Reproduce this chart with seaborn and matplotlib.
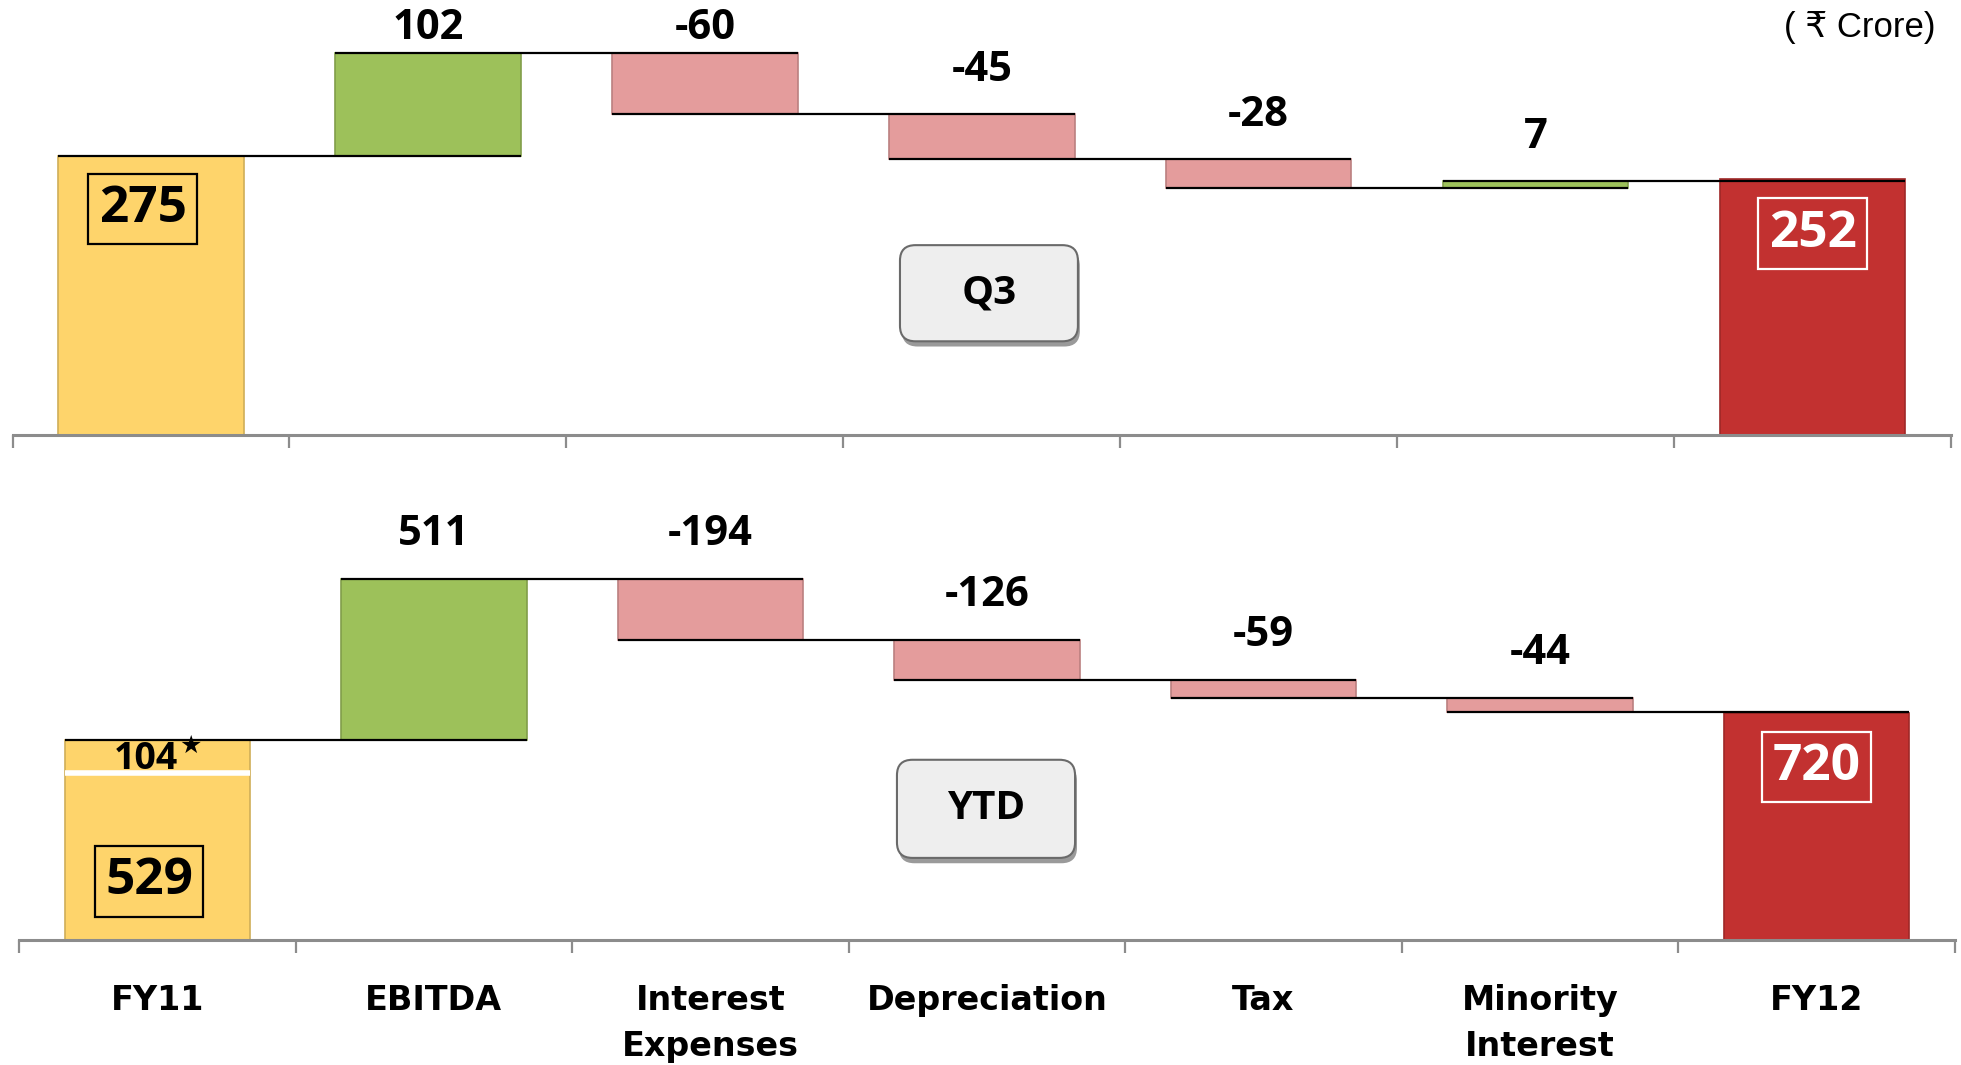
import numpy as np
import pandas as pd
import matplotlib
matplotlib.use('Agg')
import matplotlib.pyplot as plt
import matplotlib.colors as mcolors
from matplotlib.patches import FancyBboxPatch
import seaborn as sns

# ---- data (Rs Crore) ----
categories = ['FY11', 'EBITDA', 'Interest\nExpenses', 'Depreciation', 'Tax', 'Minority\nInterest', 'FY12']

q3_open = 275
q3_changes = [102, -60, -45, -28, 7]
q3_close = 252

ytd_open = 529
ytd_open_adj = 104      # starred amount stacked on FY11
ytd_changes = [511, -194, -126, -59, -44]
ytd_close = 720

# ---- styling ----
YELLOW = '#FED46B'
GREEN = '#9DC15A'
PINK = '#E49C9C'
RED = '#C23130'
AXIS_GREY = '#8C8C8C'
BAR_W = 0.67
VALUE_FONT = ['Open Sans', 'DejaVu Sans']

sns.set_style('white')
plt.rcParams['font.family'] = ['DejaVu Sans']
plt.rcParams['text.color'] = 'black'
plt.rcParams['xtick.labelcolor'] = 'black'

fig = plt.figure(figsize=(19.61, 10.65), dpi=100)
ax_top = fig.add_axes([0.0064, 0.5915, 0.9885, 0.4085])
ax_bot = fig.add_axes([0.0097, 0.1174, 0.9872, 0.4188])


def darker(c, f=0.82):
    r, g, b = mcolors.to_rgb(c)
    return (r * f, g * f, b * f)


def tag_box(ax, text, cx, cy, w, h):
    pos = ax.get_position()
    fw, fh = fig.get_size_inches() * fig.dpi
    aspect = (pos.width * fw) / (pos.height * fh)
    style = 'round,pad=0,rounding_size=0.008'
    shadow = FancyBboxPatch((cx - w / 2 + 0.001, cy - h / 2 - 0.012), w, h, boxstyle=style,
                            mutation_aspect=aspect, transform=ax.transAxes,
                            fc='#9A9A9A', ec='none', zorder=4, clip_on=False)
    box = FancyBboxPatch((cx - w / 2, cy - h / 2), w, h, boxstyle=style,
                         mutation_aspect=aspect, transform=ax.transAxes,
                         fc='#EEEEEE', ec='#6A6A6A', lw=1.5, zorder=5, clip_on=False)
    ax.add_patch(shadow)
    ax.add_patch(box)
    ax.text(cx, cy, text, transform=ax.transAxes, ha='center', va='center',
            fontsize=29, fontweight='bold', family=VALUE_FONT, zorder=6)


def boxed_label(ax, text, x, y, drop, color):
    ax.annotate(text, xy=(x, y), xytext=(0, -drop), textcoords='offset points',
                ha='center', va='center', fontsize=37, fontweight='bold', family=VALUE_FONT,
                color=color, zorder=6,
                bbox=dict(boxstyle='square,pad=0.2', fc='none', ec=color, lw=1.6))


def draw_panel(ax, open_val, changes, close_val, ymax, open_adj=0, show_labels=False,
               inner_drop=38):
    total_open = open_val + open_adj
    levels = np.cumsum([total_open] + changes)
    bottoms = [0] + [min(levels[i], levels[i + 1]) for i in range(len(changes))] + [0]
    heights = [total_open] + [abs(c) for c in changes] + [close_val]
    colors = [YELLOW] + [GREEN if c > 0 else PINK for c in changes] + [RED]

    df = pd.DataFrame({'category': categories, 'height': heights})
    sns.barplot(data=df, x='category', y='height', hue='category', palette=colors,
                saturation=1, width=BAR_W, legend=False, ax=ax)
    for p in ax.patches:
        i = int(round(p.get_x() + p.get_width() / 2))
        p.set_y(bottoms[i])
        p.set_edgecolor(darker(colors[i]))
        p.set_linewidth(1.2)

    # connector lines: from left edge of bar i to right edge of bar i+1
    for i in range(len(categories) - 1):
        ax.hlines(levels[i], i - BAR_W / 2, i + 1 + BAR_W / 2, color='black', lw=1.6, zorder=3)

    # change labels above bars
    for k, c in enumerate(changes):
        top = max(levels[k], levels[k + 1])
        y = min(top + 0.10 * ymax, 0.935 * ymax)
        ax.text(k + 1, y, f'{c}', ha='center', va='center', fontsize=30,
                fontweight='bold', family=VALUE_FONT, zorder=6)

    # opening / closing values
    boxed_label(ax, f'{open_val}', -0.03, open_val, inner_drop, 'black')
    boxed_label(ax, f'{close_val}', len(categories) - 1, close_val, 39, 'white')

    ax.set_xlim(-0.5, len(categories) - 0.5)
    ax.set_ylim(0, ymax)
    ax.set_yticks([])
    ax.set_xlabel('')
    ax.set_ylabel('')
    for s in ['left', 'right', 'top']:
        ax.spines[s].set_visible(False)
    ax.spines['bottom'].set_color(AXIS_GREY)
    ax.spines['bottom'].set_linewidth(2.2)
    ax.spines['bottom'].set_zorder(2)
    ax.set_xticks(np.arange(-0.5, len(categories), 1))
    ax.set_xticklabels([])
    ax.tick_params(axis='x', which='major', direction='out', length=9, width=1.6,
                   color=AXIS_GREY, bottom=True)
    ax.set_xticks(np.arange(len(categories)), minor=True)
    if show_labels:
        ax.set_xticklabels(categories, minor=True, fontsize=24, fontweight='bold',
                           linespacing=1.5, color='black')
    else:
        ax.set_xticklabels([''] * len(categories), minor=True)
    ax.tick_params(axis='x', which='minor', length=0, pad=32)
    return levels


draw_panel(ax_top, q3_open, q3_changes, q3_close, ymax=429)
tag_box(ax_top, 'Q3', 0.5037, 0.326, 0.0918, 0.221)

draw_panel(ax_bot, ytd_open, ytd_changes, ytd_close, ymax=1413, open_adj=ytd_open_adj,
           show_labels=True, inner_drop=78)
# white split between FY11 and the starred amount
ax_bot.hlines(ytd_open, -BAR_W / 2, BAR_W / 2, color='white', lw=4, zorder=3)
ax_bot.text(-0.04, ytd_open + ytd_open_adj * 0.43, f'{ytd_open_adj}', ha='center', va='center',
            fontsize=27, fontweight='bold', family=VALUE_FONT, zorder=6)
ax_bot.annotate('\u2605', xy=(-0.04, ytd_open + ytd_open_adj * 0.43), xytext=(32, 9),
                textcoords='offset points', ha='center', va='center', fontsize=18,
                family=['DejaVu Sans'], zorder=6)
tag_box(ax_bot, 'YTD', 0.4995, 0.294, 0.092, 0.22)

fig.text(0.987, 0.974, '( \u20b9 Crore)', ha='right', va='center', fontsize=25,
         family=['Liberation Sans Narrow', 'Liberation Sans', 'DejaVu Sans'])

fig.savefig('out.png', dpi=100)
